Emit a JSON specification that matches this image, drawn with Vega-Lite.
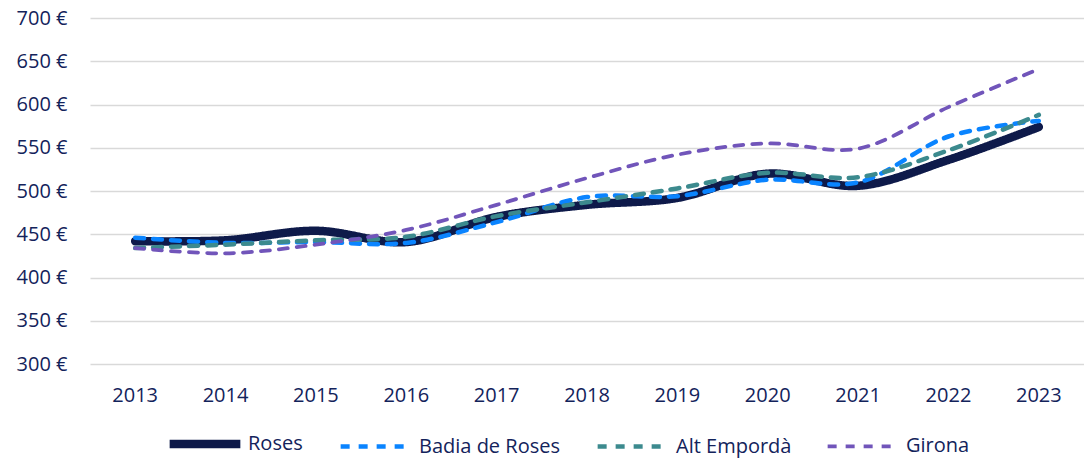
{
  "$schema": "https://vega.github.io/schema/vega-lite/v6.json",
  "width": 994,
  "height": 346,
  "autosize": {"type": "none"},
  "padding": {"left": 90, "top": 18, "right": 0, "bottom": 95},
  "background": "white",
  "config": {
    "view": {"stroke": null},
    "font": "Open Sans",
    "axis": {"labelColor": "#13235B", "labelFont": "Open Sans", "labelFontSize": 20},
    "legend": {"labelColor": "#13235B", "labelFont": "Open Sans", "labelFontSize": 20}
  },
  "data": {
    "values": [
      {"any": "2013", "serie": "Roses", "preu": 442},
      {"any": "2014", "serie": "Roses", "preu": 443},
      {"any": "2015", "serie": "Roses", "preu": 454},
      {"any": "2016", "serie": "Roses", "preu": 441},
      {"any": "2017", "serie": "Roses", "preu": 470},
      {"any": "2018", "serie": "Roses", "preu": 484},
      {"any": "2019", "serie": "Roses", "preu": 492},
      {"any": "2020", "serie": "Roses", "preu": 520},
      {"any": "2021", "serie": "Roses", "preu": 506},
      {"any": "2022", "serie": "Roses", "preu": 536},
      {"any": "2023", "serie": "Roses", "preu": 574},
      {"any": "2013", "serie": "Badia de Roses", "preu": 446},
      {"any": "2014", "serie": "Badia de Roses", "preu": 440},
      {"any": "2015", "serie": "Badia de Roses", "preu": 441},
      {"any": "2016", "serie": "Badia de Roses", "preu": 440},
      {"any": "2017", "serie": "Badia de Roses", "preu": 464},
      {"any": "2018", "serie": "Badia de Roses", "preu": 493},
      {"any": "2019", "serie": "Badia de Roses", "preu": 494},
      {"any": "2020", "serie": "Badia de Roses", "preu": 513},
      {"any": "2021", "serie": "Badia de Roses", "preu": 510},
      {"any": "2022", "serie": "Badia de Roses", "preu": 563},
      {"any": "2023", "serie": "Badia de Roses", "preu": 581},
      {"any": "2013", "serie": "Alt Empordà", "preu": 434},
      {"any": "2014", "serie": "Alt Empordà", "preu": 438},
      {"any": "2015", "serie": "Alt Empordà", "preu": 443},
      {"any": "2016", "serie": "Alt Empordà", "preu": 447},
      {"any": "2017", "serie": "Alt Empordà", "preu": 471},
      {"any": "2018", "serie": "Alt Empordà", "preu": 487},
      {"any": "2019", "serie": "Alt Empordà", "preu": 503},
      {"any": "2020", "serie": "Alt Empordà", "preu": 521},
      {"any": "2021", "serie": "Alt Empordà", "preu": 516},
      {"any": "2022", "serie": "Alt Empordà", "preu": 547},
      {"any": "2023", "serie": "Alt Empordà", "preu": 588},
      {"any": "2013", "serie": "Girona", "preu": 434},
      {"any": "2014", "serie": "Girona", "preu": 428},
      {"any": "2015", "serie": "Girona", "preu": 438},
      {"any": "2016", "serie": "Girona", "preu": 455},
      {"any": "2017", "serie": "Girona", "preu": 484},
      {"any": "2018", "serie": "Girona", "preu": 515},
      {"any": "2019", "serie": "Girona", "preu": 542},
      {"any": "2020", "serie": "Girona", "preu": 555},
      {"any": "2021", "serie": "Girona", "preu": 549},
      {"any": "2022", "serie": "Girona", "preu": 597},
      {"any": "2023", "serie": "Girona", "preu": 641}
    ]
  },
  "mark": {"type": "line", "interpolate": "catmull-rom", "strokeCap": "round", "strokeJoin": "round"},
  "encoding": {
    "x": {
      "field": "any", "type": "ordinal", "title": null,
      "scale": {"type": "band", "paddingInner": 0, "paddingOuter": 0},
      "axis": {"labelAngle": 0, "domain": false, "ticks": false, "grid": false, "labelPadding": 21}
    },
    "y": {
      "field": "preu", "type": "quantitative", "title": null,
      "scale": {"domain": [300, 700], "nice": false, "zero": false},
      "axis": {
        "values": [300, 350, 400, 450, 500, 550, 600, 650, 700],
        "labelExpr": "datum.value + ' €'",
        "domain": false, "ticks": false, "grid": true,
        "gridColor": "#D9D9D9", "gridWidth": 1.5, "labelPadding": 23
      }
    },
    "color": {
      "field": "serie", "type": "nominal", "title": null,
      "scale": {
        "domain": ["Roses", "Badia de Roses", "Alt Empordà", "Girona"],
        "range": ["#0E1A4A", "#0A84FF", "#3C8A8E", "#7155BA"]
      },
      "legend": {
        "orient": "none", "direction": "horizontal", "columns": 4,
        "legendX": 75, "legendY": 386,
        "symbolType": "stroke", "symbolSize": 5000, "columnPadding": 28,
        "labelOffset": 3
      }
    },
    "strokeDash": {
      "field": "serie", "type": "nominal", "title": null,
      "scale": {
        "type": "ordinal",
        "domain": ["Roses", "Badia de Roses", "Alt Empordà", "Girona"],
        "range": [[1, 0], [9, 9], [9, 9], [9, 9]]
      }
    },
    "strokeWidth": {
      "field": "serie", "type": "nominal", "title": null,
      "scale": {
        "type": "ordinal",
        "domain": ["Roses", "Badia de Roses", "Alt Empordà", "Girona"],
        "range": [8.5, 4.5, 4.5, 3.75]
      }
    },
    "order": {"field": "any"}
  }
}
